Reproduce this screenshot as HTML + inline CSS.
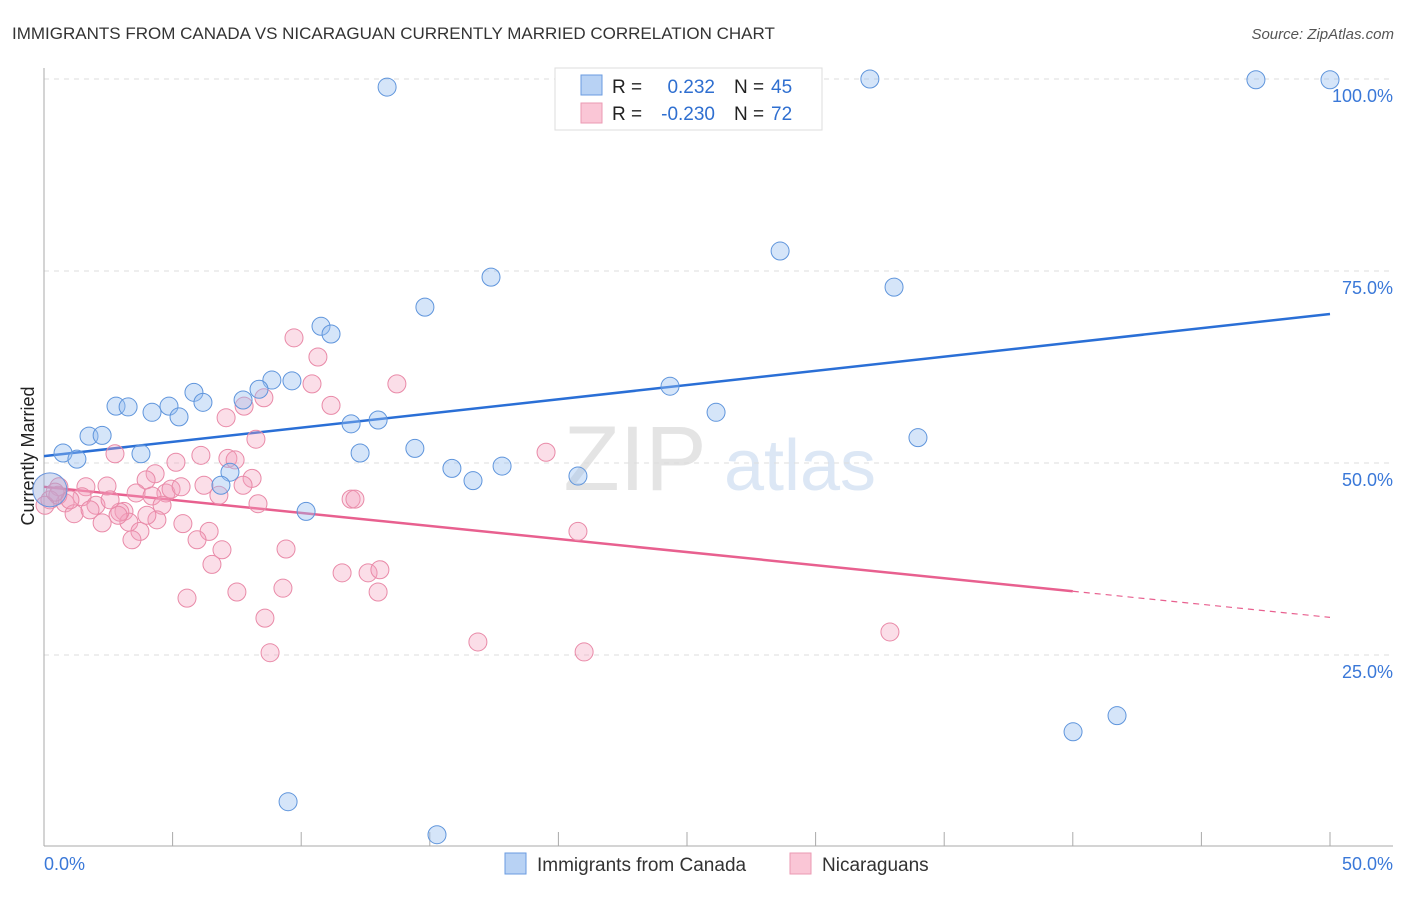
<!DOCTYPE html>
<html><head><meta charset="utf-8"><style>
body{margin:0;background:#fff;font-family:"Liberation Sans",sans-serif;}
svg text{font-family:"Liberation Sans",sans-serif;}
</style></head><body>
<svg id="chart" width="1406" height="892" xmlns="http://www.w3.org/2000/svg">
<text x="12" y="39" font-size="17" fill="#333">IMMIGRANTS FROM CANADA VS NICARAGUAN CURRENTLY MARRIED CORRELATION CHART</text>
<text x="1394" y="39" font-size="15" fill="#555" font-style="italic" text-anchor="end">Source: ZipAtlas.com</text>
<text x="34" y="456" font-size="18" fill="#222" text-anchor="middle" transform="rotate(-90 34 456)">Currently Married</text>
<g><text x="635" y="490" font-size="92" fill="#e4e4e4" font-family="Liberation Serif" text-anchor="middle">ZIP</text><text x="800" y="490" font-size="72" fill="#dce7f5" text-anchor="middle">atlas</text></g>
<g id="grid"></g><g id="axes"></g><g id="trends"></g><g id="points"></g>
<g>
<rect x="555" y="68" width="267" height="62" fill="#fff" stroke="#ddd"/>
<rect x="581" y="75" width="21" height="20" fill="#b8d2f4" stroke="#6a9be0"/>
<rect x="581" y="103" width="21" height="20" fill="#fac6d6" stroke="#eb9ab3"/>
<text x="612" y="93" font-size="19" fill="#222">R = </text><text x="715" y="93" font-size="19" fill="#2f6fd0" text-anchor="end">0.232</text>
<text x="734" y="93" font-size="19" fill="#222">N = </text><text x="771" y="93" font-size="19" fill="#2f6fd0">45</text>
<text x="612" y="120" font-size="19" fill="#222">R = </text><text x="715" y="120" font-size="19" fill="#2f6fd0" text-anchor="end">-0.230</text>
<text x="734" y="120" font-size="19" fill="#222">N = </text><text x="771" y="120" font-size="19" fill="#2f6fd0">72</text>
</g>
<g>
<rect x="505" y="853" width="21" height="21" fill="#b8d2f4" stroke="#6a9be0"/>
<text x="537" y="871" font-size="19" fill="#333">Immigrants from Canada</text>
<rect x="790" y="853" width="21" height="21" fill="#fac6d6" stroke="#eb9ab3"/>
<text x="822" y="871" font-size="19" fill="#333">Nicaraguans</text>
</g>
</svg>
<script>
const blueX=[13.34,32.11,47.12,50,28.62,17.38,33.05,14.81,10.77,11.16,24.34,9.64,8.86,8.36,7.74,5.83,6.18,4.86,4.2,5.25,2.8,3.27,1.75,2.26,0.74,1.28,3.77,11.94,12.99,14.42,12.29,15.86,17.81,16.68,20.76,26.13,33.98,7.23,6.88,10.19,40.01,41.72,9.49,15.28];
const blueY=[98.95,100,99.9,99.9,77.6,74.2,72.9,70.3,67.8,66.8,60.0,60.7,60.8,59.6,58.2,59.2,57.9,57.4,56.6,56.0,57.4,57.3,53.5,53.6,51.3,50.5,51.2,55.1,55.6,51.9,51.3,49.3,49.6,47.7,48.3,56.6,53.3,48.8,47.1,43.7,15.0,17.1,5.9,1.6];
const pinkX=[9.72,10.65,13.72,10.42,8.55,11.16,7.78,7.08,8.24,19.52,2.76,5.13,6.10,7.15,7.43,4.32,3.97,8.09,0.58,1.63,2.45,3.58,4.74,4.94,5.33,6.22,7.74,6.80,1.48,2.02,3.11,4.20,4.59,8.32,11.94,12.09,0.82,1.17,2.26,3.30,4.39,5.40,6.42,3.73,3.42,5.95,6.92,6.53,9.41,20.76,11.59,12.60,13.06,5.56,7.50,9.29,12.99,8.59,8.79,16.87,21.0,32.89,0.23,0.54,0.04,2.95,2.88,1.01,0.43,1.79,2.57,4.0];
const pinkY=[66.3,63.8,60.3,60.3,58.5,57.5,57.4,55.9,53.1,51.4,51.2,50.1,51.0,50.6,50.4,48.6,47.8,48.0,46.9,46.9,47.0,46.1,46.1,46.6,46.9,47.1,47.1,45.8,45.6,44.5,43.7,45.7,44.5,44.7,45.3,45.3,44.8,43.4,42.2,42.3,42.6,42.1,41.1,41.1,40.0,40.0,38.7,36.8,38.8,41.1,35.7,35.7,36.1,32.4,33.2,33.7,33.2,29.8,25.3,26.7,25.4,28.0,45.2,45.8,44.5,43.6,43.2,45.2,46.2,43.9,45.2,43.2];
const bigX=[0.23], bigY=[46.5];
const trendBlue=[50.9,0.37], trendPink=[46.9,-0.34];
const yTicks=[25,50,75,100], yTickLabels=["25.0%","50.0%","75.0%","100.0%"];
const xTickLabels=["0.0%","50.0%"];
const NS="http://www.w3.org/2000/svg";
const sx=v=>44+v/50*1286, sy=v=>847-v*7.68;
function mk(tag,attrs,parent){const e=document.createElementNS(NS,tag);for(const k in attrs)e.setAttribute(k,attrs[k]);document.getElementById(parent).appendChild(e);return e;}
yTicks.forEach((t,i)=>{
 const l=mk('line',{x1:44,x2:1393,y1:sy(t),y2:sy(t),stroke:'#ddd','stroke-dasharray':'5,5'},'grid');
 
 
 const tx=mk('text',{x:1393,y:sy(t)+23,'font-size':18,fill:'#3a78d8','text-anchor':'end'},'grid');
 tx.textContent=yTickLabels[i];
 
 
});
mk('line',{x1:44,x2:44,y1:68,y2:846,stroke:'#aaa'},'axes');
mk('line',{x1:44,x2:1393,y1:846,y2:846,stroke:'#aaa'},'axes');
for(let i=1;i<=10;i++){const x=sx(i*5);mk('line',{x1:x,x2:x,y1:832,y2:846,stroke:'#aaa'},'axes');}
[[0,'start',44],[50,'end',1393]].forEach((d,i)=>{const t=mk('text',{x:d[2],y:870,'font-size':18,fill:'#3a78d8','text-anchor':d[1]},'axes');t.textContent=xTickLabels[i];
 
 });
const tb=mk('line',{x1:sx(0),y1:sy(trendBlue[0]),x2:sx(50),y2:sy(trendBlue[0]+50*trendBlue[1]),stroke:'#2a6fd6','stroke-width':2.5},'trends');


const tp=mk('line',{x1:sx(0),y1:sy(trendPink[0]),x2:sx(40),y2:sy(trendPink[0]+40*trendPink[1]),stroke:'#e8608f','stroke-width':2.5},'trends');


const td=mk('line',{x1:sx(40),y1:sy(trendPink[0]+40*trendPink[1]),x2:sx(50),y2:sy(trendPink[0]+50*trendPink[1]),stroke:'#e8608f','stroke-width':1.2,'stroke-dasharray':'6,5'},'trends');


pinkX.forEach((x,i)=>{const c=mk('circle',{cx:sx(x),cy:sy(pinkY[i]),r:9,fill:'rgba(244,160,188,0.35)',stroke:'#e98aa8','stroke-width':1},'points');
 
 });
blueX.forEach((x,i)=>{const c=mk('circle',{cx:sx(x),cy:sy(blueY[i]),r:9,fill:'rgba(150,190,240,0.4)',stroke:'#5f95dc','stroke-width':1},'points');
 
 });
bigX.forEach((x,i)=>{const c=mk('circle',{cx:sx(x),cy:sy(bigY[i]),r:17,fill:'rgba(150,170,220,0.4)',stroke:'#6a95dc','stroke-width':1},'points');
 
 });
</script>
</body></html>
